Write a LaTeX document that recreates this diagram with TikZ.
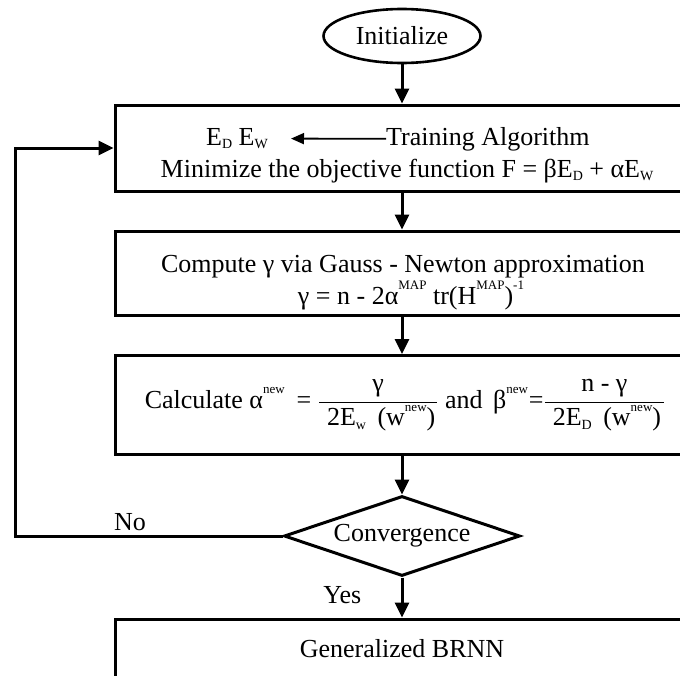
\documentclass[tikz,border=0pt]{standalone}
\usepackage{fontspec}
\setmainfont{Liberation Serif}
\usepackage{tikz}
\usetikzlibrary{shapes.geometric,arrows.meta}
% small raised / lowered indices as in the figure
\newcommand\supx[1]{\raisebox{0.55em}{\fontsize{13}{13}\selectfont #1}}
\newcommand\subx[1]{\raisebox{-0.15em}{\fontsize{14}{14}\selectfont #1}}
\tikzset{
  flowarrow/.style={line width=3pt, -{Triangle[length=15pt,width=14pt]}},
  thinarrow/.style={line width=1.8pt, -{Triangle[length=13pt,width=11pt]}},
  stepbox/.style={draw, line width=3pt, rectangle, minimum width=574pt, inner sep=0pt, align=center},
  startnode/.style={draw, line width=2.6pt, ellipse, minimum width=157pt, minimum height=54pt, inner sep=0pt},
  decision/.style={draw, line width=3pt, diamond, aspect=2.95, minimum width=236pt, minimum height=80pt, inner sep=0pt}
}

\begin{document}
\begin{tikzpicture}[x=1pt, y=-1pt, every node/.style={font=\fontsize{26}{32}\selectfont}]
  \useasboundingbox (0,0) rectangle (680,675);
  \clip (0,0) rectangle (680,675);

  \node[startnode] (init) at (402,36) {Initialize};

  % training box
  \node[stepbox, minimum height=86pt] (train) at (402,148) {};
  \node[inner sep=0pt, anchor=base] (errs) at (237,145) {E\subx{D} E\subx{W}};
  \node[inner sep=0pt, anchor=base west] (algo) at (386,145) {Training Algorithm};
  \node[inner sep=0pt, anchor=base] (objfun) at (407,177) {Minimize the objective function F = βE\subx{D} + αE\subx{W}};
  \draw[thinarrow, shorten >=23pt] (algo.west) -- (errs.east);

  % gauss-newton box
  \node[stepbox, minimum height=84pt] (gamma) at (402,273) {};
  \node[inner sep=0pt, anchor=base] (gnline) at (403,272) {Compute γ via Gauss - Newton approximation};
  \node[inner sep=0pt, anchor=base] (gnform) at (411,304) {γ = n - 2α\supx{MAP} tr(H\supx{MAP})\supx{-1}};

  \node[stepbox, minimum height=99pt] (update) at (402,405) {};
  \node[inner sep=0pt] (newpar) at (405,405)
    {Calculate α\supx{new}\hspace{12pt}= $\displaystyle\frac{\mbox{γ}}{\mbox{\hspace{8pt}2E\subx{w}\hspace{5pt} (w\supx{new})\hspace{2pt}}}$ and\hspace{4pt}
     β\supx{new}\hspace{1pt}=$\displaystyle\frac{\mbox{n - γ}}{\mbox{\hspace{8pt}2E\subx{D}\hspace{5pt} (w\supx{new})\hspace{3pt}}}$};

  \node[decision] (conv) at (402,536) {Convergence};
  \node[stepbox, minimum height=60pt] (final) at (402,649) {Generalized BRNN};

  \coordinate (back) at (15,536);

  \draw[flowarrow] (init) -- (train);
  \draw[flowarrow] (train) -- (gamma);
  \draw[flowarrow] (gamma) -- (update);
  \draw[flowarrow] (update) -- (conv);
  \draw[flowarrow] (conv) -- node[pos=0.44, left=36pt] {Yes} (final);
  \draw[flowarrow] (conv.west) -- node[pos=0.57, above] {No} (back) |- (train.west);
\end{tikzpicture}
\end{document}
